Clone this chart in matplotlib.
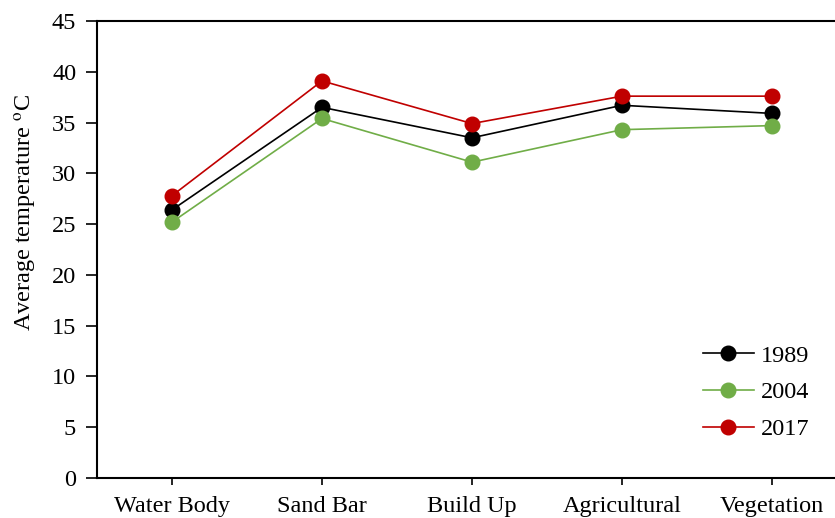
import numpy as np
import matplotlib.pyplot as plt

plt.rcParams['font.family'] = ['Liberation Serif', 'DejaVu Serif']
plt.rcParams['mathtext.fontset'] = 'stix'

# 各土地类型平均温度
categories = ['Water Body', 'Sand Bar', 'Build Up', 'Agricultural', 'Vegetation']
t1989 = [26.4, 36.5, 33.5, 36.7, 35.9]
t2004 = [25.2, 35.4, 31.1, 34.3, 34.7]
t2017 = [27.8, 39.1, 34.9, 37.6, 37.6]
years = ['1989', '2004', '2017']

fig = plt.figure(figsize=(8.35, 5.18), dpi=100)
ax = fig.add_axes([97 / 835, 40 / 518, 750 / 835, 457 / 518])

x = np.arange(len(categories))
ax.plot(x, t1989, color='black', lw=1.2, marker='o', ms=10.5, label=years[0])
ax.plot(x, t2004, color='#70AD47', lw=1.2, marker='o', ms=10.5, label=years[1])
ax.plot(x, t2017, color='#C00000', lw=1.2, marker='o', ms=10.5, label=years[2])

ax.set_xlim(-0.5, 4.5)
ax.set_ylim(0, 45)
ax.set_yticks(range(0, 46, 5))
ax.set_xticks(x)
ax.set_xticklabels(categories)
ax.tick_params(axis='both', direction='out', labelsize=17.5, width=1.2)
ax.tick_params(axis='y', length=8, pad=7)
ax.tick_params(axis='x', length=5, pad=8)
for s in ax.spines.values():
    s.set_linewidth(1.5)
ax.set_ylabel('Average temperature $^{\\rm o}$C', fontsize=17.5)
ax.yaxis.set_label_coords(-0.077, 0.58)

ax.legend(loc='lower right', bbox_to_anchor=(0.95, 0.083),
          frameon=False, fontsize=17.5, handlelength=2.1, labelspacing=0.6,
          handletextpad=0.3, borderpad=0, borderaxespad=0)

plt.savefig('out.png', dpi=100)
